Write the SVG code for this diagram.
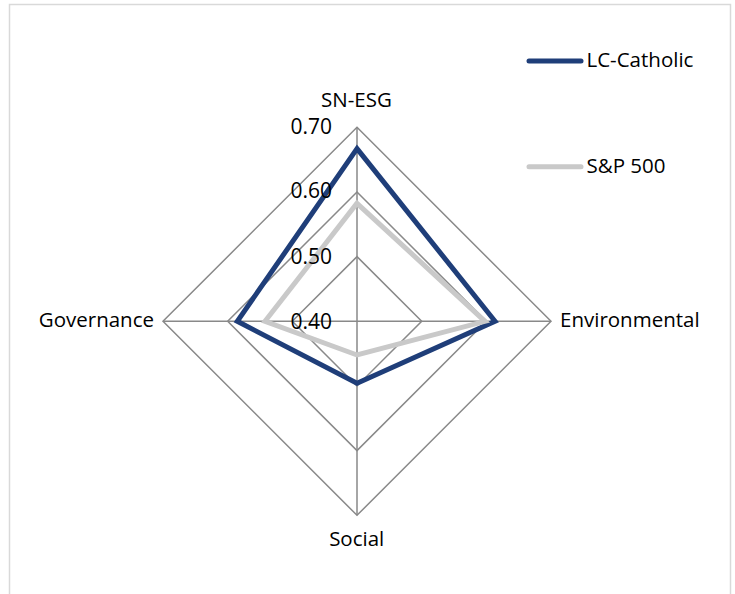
<svg xmlns="http://www.w3.org/2000/svg" width="735" height="594" viewBox="0 0 735 594">
<style>
.grid{fill:none;stroke:#898989;stroke-width:1.5}
.lbl{font-family:"Open Sans","Liberation Sans",sans-serif;font-size:20.5px;fill:#000}
.tick{font-family:"Open Sans","Liberation Sans",sans-serif;font-size:21px;fill:#000;text-anchor:end}
.s1{fill:none;stroke:#1F3E79;stroke-width:5;stroke-linejoin:miter}
.s2{fill:none;stroke:#C9C9C9;stroke-width:5;stroke-linejoin:miter}
</style>
<rect x="9.5" y="4.5" width="721" height="600" fill="#FFFFFF" stroke="#D9D9D9" stroke-width="1.5"/>
<g id="grid">
<polygon class="grid" points="357,256.6 421.7,321.3 357,386 292.3,321.3"/>
<polygon class="grid" points="357,192 486.3,321.3 357,450.6 227.7,321.3"/>
<polygon class="grid" points="357,127.3 551,321.3 357,515.3 163,321.3"/>
<line class="grid" x1="357" y1="127.3" x2="357" y2="515.3"/>
<line class="grid" x1="163" y1="321.3" x2="551" y2="321.3"/>
</g>
<g id="connectors">
<polygon id="series-lc-catholic" class="s1" points="357,148.6 495,321.3 357,383.3 237.3,321.3"/>
<polygon id="series-sp500" class="s2" points="357,203.3 485,321.3 357,355 265,321.3"/>
</g>
<g id="ticks">
<text class="tick" x="332" y="133.5">0.70</text>
<text class="tick" x="332" y="198.3">0.60</text>
<text class="tick" x="332" y="264">0.50</text>
<text class="tick" x="332" y="329">0.40</text>
</g>
<g id="axis-sn-esg"><text class="lbl" x="356.5" y="107.3" text-anchor="middle">SN-ESG</text></g>
<g id="axis-environmental"><text class="lbl" x="560" y="327.3">Environmental</text></g>
<g id="axis-social"><text class="lbl" x="356.7" y="545.7" text-anchor="middle">Social</text></g>
<g id="axis-governance"><text class="lbl" x="154" y="327.3" text-anchor="end">Governance</text></g>
<g id="legend-lc-catholic">
<line x1="529" y1="61" x2="581" y2="61" stroke="#1F3E79" stroke-width="5" stroke-linecap="round"/>
<text class="lbl" x="586.5" y="67.3">LC-Catholic</text>
</g>
<g id="legend-sp500">
<line x1="529" y1="166.7" x2="581" y2="166.7" stroke="#C9C9C9" stroke-width="5" stroke-linecap="round"/>
<text class="lbl" x="586.5" y="173.3">S&amp;P 500</text>
</g>
</svg>
